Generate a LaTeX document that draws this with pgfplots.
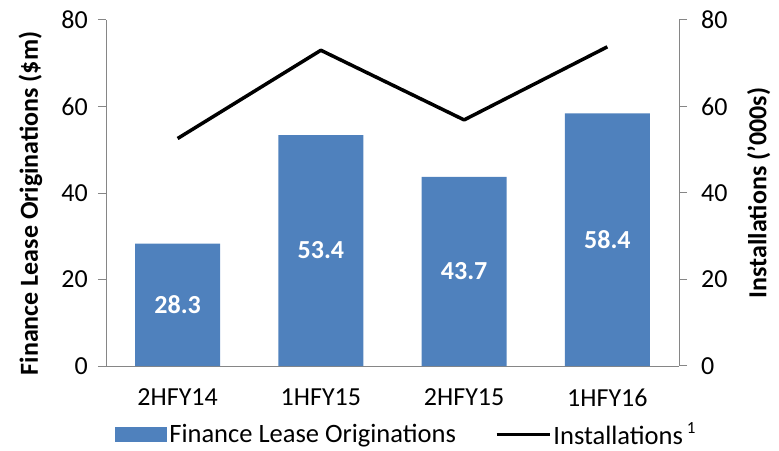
\documentclass[border=0pt]{standalone}
\usepackage{fontspec}
\setmainfont{Carlito}
\usepackage{pgfplots}
\usepackage{pgfplotstable}
\pgfplotsset{compat=1.18}

\definecolor{barblue}{HTML}{4F81BD}
\definecolor{axgray}{HTML}{868686}

\pgfplotstableread{
x fin inst
0 28.3 52.6
1 53.4 73.0
2 43.7 56.9
3 58.4 73.8
}\halfyears

\newcommand{\tickfont}{\fontsize{26}{26}\selectfont}
\newcommand{\legfont}{\fontsize{26.5}{26.5}\selectfont}
\newcommand{\labfont}{\bfseries\fontsize{26}{26}\selectfont}

\pgfplotsset{
  common/.style={
    at={(106pt,84pt)}, anchor=south west,
    scale only axis, width=573pt, height=346pt,
    xmin=-0.5, xmax=3.5, ymin=0, ymax=80,
    ytick={0,20,...,80},
    tick align=outside,
    major tick length=8pt,
    tick style={axgray, line width=1pt},
    axis line style={axgray, line width=1pt, -},
    ticklabel style={font=\tickfont, black},
    /pgf/number format/assume math mode=true,
    yticklabel style={inner xsep=10pt},
  },
}

\begin{document}
\begin{tikzpicture}
\useasboundingbox (0,0) rectangle (779pt,450pt);

% bars: finance lease originations
\begin{axis}[common,
  axis y line*=left, axis x line*=bottom,
  xtick={0,1,2,3},
  xticklabels={2HFY14,1HFY15,2HFY15,1HFY16},
  xticklabel style={yshift=-11pt},
  x tick style={draw=none},
  extra x ticks={-0.5,0.5,1.5,2.5,3.5},
  extra x tick labels={},
  extra x tick style={tick style={draw=axgray, line width=1pt}},
  ylabel={\labfont Finance Lease Originations (\$m)},
  ylabel style={at={(axis description cs:-0.132,0.47)}, anchor=center},
  legend style={draw=none, fill=none, at={(axis description cs:0.016,-0.198)},
    anchor=west, legend columns=2, font=\legfont,
    /tikz/every even column/.append style={column sep=37pt},
    legend cell align=left, inner sep=0pt},
]
\addplot[ybar, bar width=85pt, fill=barblue, draw=none,
  area legend,
  legend image code/.code={\fill[barblue] (0pt,-7.5pt) rectangle (52pt,7.5pt);},
  visualization depends on={y \as \rawy},
  nodes near coords={\pgfmathprintnumber[fixed,precision=1,fixed zerofill]{\pgfplotspointmeta}},
  nodes near coords style={white, font=\labfont, anchor=center,
    shift={(axis direction cs:0,-\rawy/2)}},
  point meta=explicit,
] table[x=x, y=fin, meta=fin] {\halfyears};
\addlegendentry{Finance Lease Originations}
\addlegendimage{legend image code/.code={\draw[black, line width=3.5pt] (0pt,0pt) -- (53pt,0pt);}}
\addlegendentry{Installations\kern4pt\raisebox{11pt}{\fontsize{17}{17}\selectfont 1}}
\end{axis}

% line: installations on the right-hand axis
\begin{axis}[common,
  axis y line*=right, axis x line=none,
  ylabel={\labfont Installations ('000s)},
  ylabel style={at={(axis description cs:1.139,0.5)}, anchor=center},
  yticklabel style={inner xsep=14pt},
]
\addplot[black, line width=3.5pt, line join=round] table[x=x, y=inst] {\halfyears};
\end{axis}
\end{tikzpicture}
\end{document}
